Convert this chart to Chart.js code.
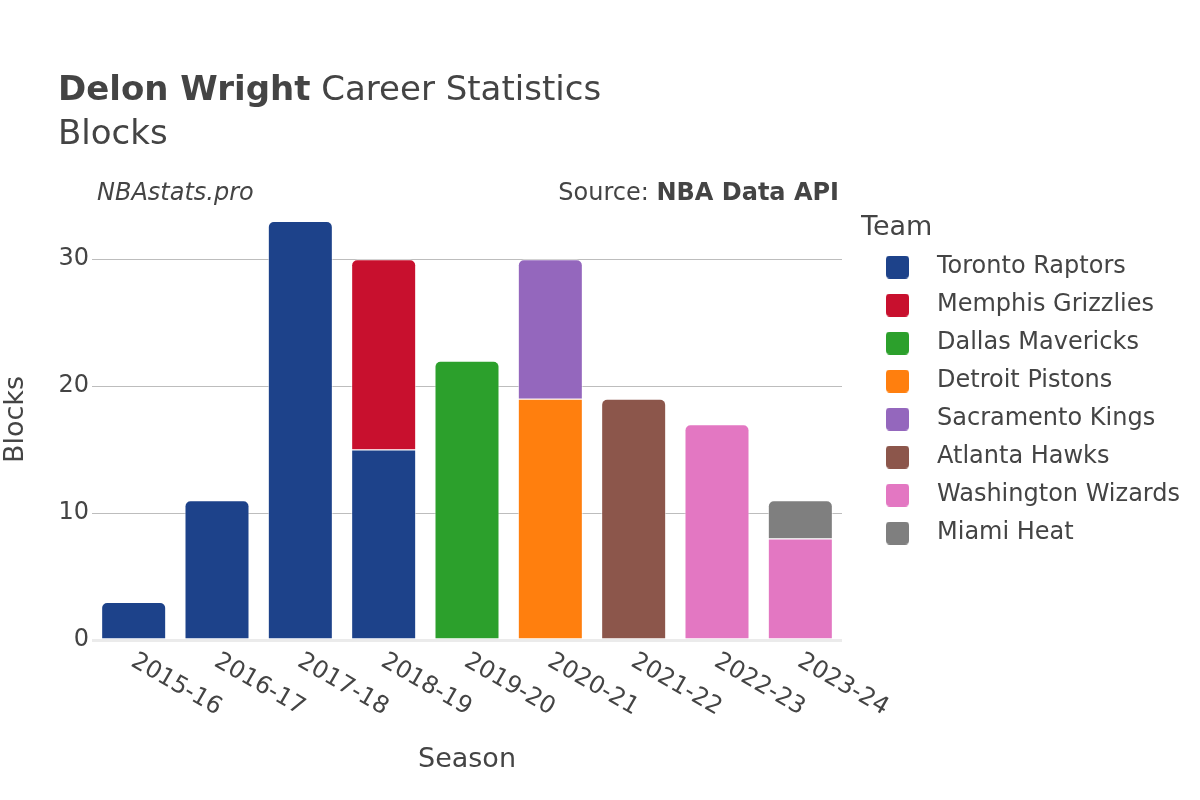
<!DOCTYPE html>
<html>
<head>
<meta charset="utf-8">
<title>Delon Wright Career Statistics - Blocks</title>
<script src="https://cdn.jsdelivr.net/npm/chart.js@4.4.1/dist/chart.umd.min.js"></script>
<style>
  html, body { margin: 0; padding: 0; background: #fff; }
  #chart { display: block; }
</style>
</head>
<body>
<canvas id="chart" width="1200" height="800"></canvas>
<script>
const playerName = 'Delon Wright';
const statName = 'Blocks';

const seasons = ['2015-16', '2016-17', '2017-18', '2018-19', '2019-20', '2020-21', '2021-22', '2022-23', '2023-24'];
const teams = ['Toronto Raptors', 'Memphis Grizzlies', 'Dallas Mavericks', 'Detroit Pistons',
    'Sacramento Kings', 'Atlanta Hawks', 'Washington Wizards', 'Miami Heat'];
const teamColors = ['#1d428a', '#c8102e', '#2ca02c', '#ff7f0e', '#9467bd', '#8c564b', '#e377c2', '#7f7f7f'];

const torontoBlocks    = [3, 11, 33, 15, null, null, null, null, null];
const memphisBlocks    = [null, null, null, 15, null, null, null, null, null];
const dallasBlocks     = [null, null, null, null, 22, null, null, null, null];
const detroitBlocks    = [null, null, null, null, null, 19, null, null, null];
const sacramentoBlocks = [null, null, null, null, null, 11, null, null, null];
const atlantaBlocks    = [null, null, null, null, null, null, 19, null, null];
const washingtonBlocks = [null, null, null, null, null, null, null, 17, 8];
const miamiBlocks      = [null, null, null, null, null, null, null, null, 3];
const blocksByTeam = [torontoBlocks, memphisBlocks, dallasBlocks, detroitBlocks,
    sacramentoBlocks, atlantaBlocks, washingtonBlocks, miamiBlocks];

const yTicks = [0, 10, 20, 30];
const yMax = 34.74;

const FONT = "'DejaVu Sans', sans-serif";
const TEXT = '#444';

// legend swatches: rounded square offset inside a wider image so text lands where it should
const legendIcons = teamColors.map(color => {
    const c = document.createElement('canvas');
    c.width = 50;
    c.height = 23;
    const g = c.getContext('2d');
    g.fillStyle = color;
    g.beginPath();
    g.roundRect(11, 0, 23, 23, 4);
    g.fill();
    return c;
});

// make the legend exactly fill the space right of the plot
const measureCtx = document.createElement('canvas').getContext('2d');
measureCtx.font = `24px ${FONT}`;
const longest = Math.max(...teams.map(t => measureCtx.measureText(t).width));
const legendWidth = 14 + 50 + 12 + longest + 10;
const padRight = Math.max(0, 339 - legendWidth);

const headerPlugin = {
    id: 'header',
    afterDraw(chart) {
        const ctx = chart.ctx;
        ctx.save();
        ctx.fillStyle = TEXT;
        ctx.textBaseline = 'alphabetic';
        ctx.textAlign = 'left';

        ctx.font = `bold 34px ${FONT}`;
        ctx.fillText(playerName, 58, 100);
        const nameW = ctx.measureText(playerName).width;
        ctx.font = `34px ${FONT}`;
        ctx.fillText(' Career Statistics', 58 + nameW, 100);
        ctx.fillText(statName, 58, 144);

        ctx.font = `italic 24px ${FONT}`;
        ctx.fillText('NBAstats.pro', 97, 200);

        ctx.textAlign = 'right';
        ctx.font = `bold 24px ${FONT}`;
        const src = 'NBA Data API';
        const srcW = ctx.measureText(src).width;
        ctx.fillText(src, 839, 200);
        ctx.font = `24px ${FONT}`;
        ctx.fillText('Source: ', 839 - srcW, 200);

        // rotated season labels under the bars
        const xScale = chart.scales.x;
        ctx.textAlign = 'left';
        ctx.font = `24px ${FONT}`;
        seasons.forEach((s, i) => {
            const px = xScale.getPixelForValue(i);
            ctx.save();
            ctx.translate(px - 4, 665);
            ctx.rotate(Math.PI / 6);
            ctx.fillText(s, 0, 0);
            ctx.restore();
        });
        ctx.restore();
    }
};

const datasets = teams.map((team, i) => ({
    label: team,
    data: blocksByTeam[i],
    backgroundColor: teamColors[i],
    borderColor: 'rgba(255,255,255,0.6)',
    borderWidth: 1,
    borderRadius: 6,
    borderSkipped: 'start',
    categoryPercentage: 1,
    barPercentage: 0.78
}));

new Chart(document.getElementById('chart'), {
    type: 'bar',
    data: { labels: seasons, datasets: datasets },
    plugins: [headerPlugin],
    options: {
        responsive: false,
        animation: false,
        devicePixelRatio: 1,
        layout: { padding: { top: 199, left: 0, right: padRight, bottom: 0 } },
        scales: {
            x: {
                stacked: true,
                grid: { display: false },
                border: { display: false },
                ticks: { display: false },
                title: {
                    display: true,
                    text: 'Season',
                    color: TEXT,
                    font: { family: FONT, size: 27, lineHeight: 1.2 },
                    padding: { top: 0, bottom: 24 }
                },
                afterFit: s => { s.height = 160; }
            },
            y: {
                stacked: true,
                min: 0,
                max: yMax,
                border: { display: false },
                grid: {
                    drawTicks: false,
                    color: ctx => ctx.tick && ctx.tick.value === 0 ? '#ebebeb' : '#bdbdbd',
                    lineWidth: ctx => ctx.tick && ctx.tick.value === 0 ? 3 : 1
                },
                ticks: {
                    color: TEXT,
                    padding: 3,
                    font: { family: FONT, size: 24 }
                },
                afterBuildTicks: s => { s.ticks = yTicks.map(v => ({ value: v })); },
                title: {
                    display: true,
                    text: 'Blocks',
                    color: TEXT,
                    font: { family: FONT, size: 27, lineHeight: 1.2 },
                    padding: { top: 0, bottom: 0 }
                },
                afterFit: s => { s.width = 92; }
            },
            // empty spacer between plot and legend
            gap: {
                type: 'linear',
                position: 'right',
                display: true,
                grid: { display: false, drawTicks: false },
                border: { display: false },
                ticks: { display: false },
                afterFit: s => { s.width = 19; }
            }
        },
        plugins: {
            tooltip: { enabled: false },
            legend: {
                position: 'right',
                align: 'start',
                maxWidth: Math.ceil(legendWidth) + 2,
                title: {
                    display: true,
                    position: 'start',
                    text: 'Team',
                    color: TEXT,
                    font: { family: FONT, size: 27, lineHeight: 1 },
                    padding: { top: 15, bottom: 0 }
                },
                labels: {
                    color: TEXT,
                    font: { family: FONT, size: 24 },
                    padding: 14,
                    usePointStyle: true,
                    pointStyleWidth: 50,
                    generateLabels: chart => {
                        const items = Chart.defaults.plugins.legend.labels.generateLabels(chart);
                        items.forEach(item => { item.pointStyle = legendIcons[item.datasetIndex]; });
                        return items;
                    }
                }
            }
        }
    }
});
</script>
</body>
</html>
